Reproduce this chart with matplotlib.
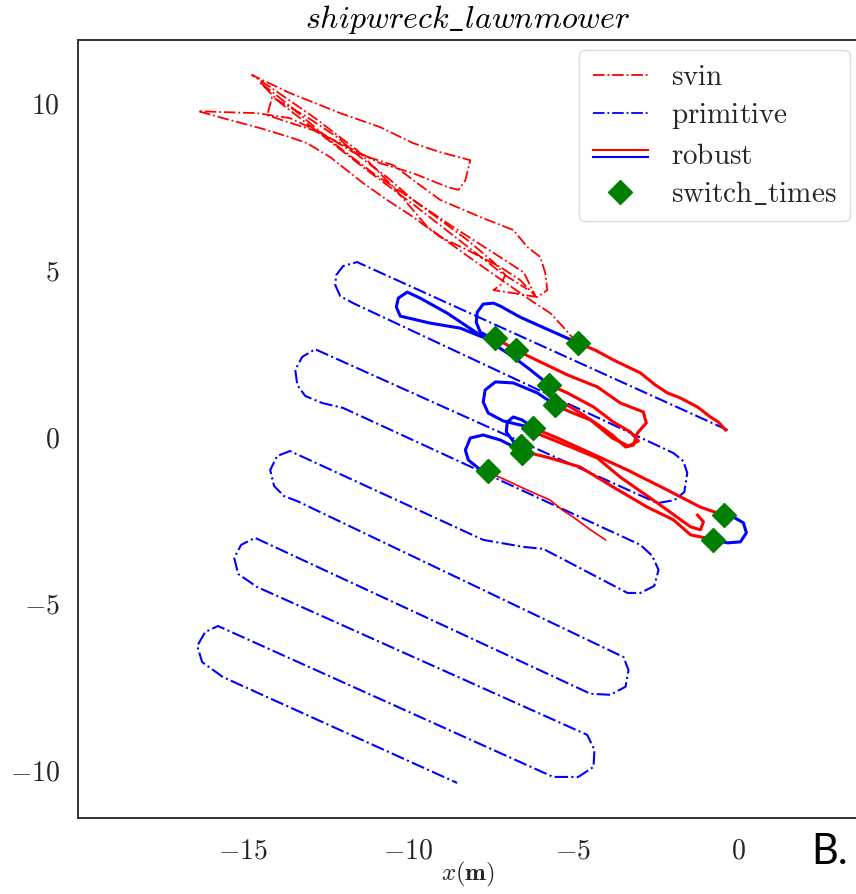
import matplotlib
matplotlib.use("Agg")
import matplotlib.pyplot as plt
from matplotlib.lines import Line2D
from matplotlib.legend_handler import HandlerBase
import numpy as np

plt.rcParams['mathtext.fontset'] = 'cm'
plt.rcParams['font.family'] = ['DejaVu Sans']

# ---------------- data (metres) ----------------
title = r'$shipwreck\_lawnmower$'
xticks = [-15, -10, -5, 0]
xticklabels = [r'$-15$', r'$-10$', r'$-5$', r'$0$']
yticks = [-10, -5, 0, 5, 10]
yticklabels = [r'$-10$', r'$-5$', r'$0$', r'$5$', r'$10$']

primitive_x = [-0.33, -11.55, -11.97, -12.18, -12.21, -12.06, -11.67,
               -1.97, -1.67, -1.55, -1.64, -1.94, -2.45,
               -12.82, -13.21, -13.42, -13.36, -13.12, -12.61, -11.97,
               -2.97, -2.61, -2.42, -2.55, -2.97, -3.36,
               -5.91, -6.52, -7.73, -13.58, -13.97, -14.18, -14.06, -13.76, -13.36,
               -3.48, -3.33, -3.42, -3.88, -4.48,
               -14.64, -15.06, -15.27, -15.15, -14.58,
               -4.58, -4.36, -4.39, -4.85, -5.61,
               -15.76, -16.15, -16.39, -16.24, -15.61, -8.52]
primitive_y = [0.18, 5.21, 5.09, 4.82, 4.52, 4.19, 3.98,
               -0.51, -0.75, -1.11, -1.68, -1.92, -2.01,
               2.60, 2.37, 1.98, 1.53, 1.20, 0.99, 0.84,
               -3.26, -3.59, -4.01, -4.49, -4.70, -4.70,
               -3.38, -3.32, -3.11, -0.45, -0.60, -1.02, -1.50, -1.80, -1.95,
               -6.62, -7.01, -7.51, -7.75, -7.72,
               -3.05, -3.26, -3.65, -4.13, -4.52,
               -8.95, -9.40, -9.91, -10.21, -10.21,
               -5.69, -5.87, -6.29, -6.77, -7.22, -10.39]

svin_x = [-4.88, -5.33, -5.70, -6.30, -7.30, -8.33, -9.42, -10.45, -11.55, -12.82, -14.18, -14.73,
          -13.58, -12.06, -10.85, -9.85, -9.03, -8.12, -8.27, -8.48,
          -8.82, -9.85, -10.85, -12.06, -12.88, -13.73, -14.27, -14.12,
          -13.06, -12.15, -11.45, -10.64, -9.85, -9.03, -8.21, -7.42, -7.06, -7.21, -7.42,
          -6.82, -6.09, -5.79, -5.85, -6.00, -6.39, -6.82, -7.82, -9.03, -9.64, -10.45,
          -11.67, -12.67, -13.58, -14.58, -15.61, -16.36,
          -15.61, -14.48, -13.58, -13.06, -12.36, -11.36, -10.64, -9.85, -9.03, -8.21,
          -7.21, -6.61, -6.15,
          -6.50, -7.60, -8.70, -9.90, -11.10, -12.30, -13.60, -14.50,
          -13.90, -12.60, -11.30, -9.80, -8.50, -7.20, -6.40]
svin_y = [2.78, 3.29, 3.68, 4.07, 4.76, 5.48, 6.26, 7.46, 8.56, 9.52, 10.45, 10.81,
          10.27, 9.67, 9.25, 8.77, 8.50, 8.26, 7.66, 7.37,
          7.46, 7.87, 8.17, 8.77, 9.16, 9.43, 9.61, 10.15,
          9.55, 8.95, 8.35, 7.75, 7.07, 6.47, 5.87, 5.21, 4.82, 4.52, 4.37,
          4.28, 4.16, 4.37, 4.88, 5.36, 5.66, 6.17, 6.56, 7.07, 7.51, 8.11,
          8.50, 9.10, 9.52, 9.67, 9.70, 9.73,
          9.52, 9.22, 8.95, 8.77, 8.35, 7.57, 7.07, 6.56, 5.96, 5.57,
          5.06, 4.67, 4.19,
          4.90, 5.60, 6.30, 7.10, 7.90, 8.80, 9.90, 10.60,
          10.00, 9.00, 8.00, 6.90, 5.90, 4.90, 4.40]

# robust trajectory pieces (red = svin mode, blue = primitive mode)
robust_red_1 = [(-0.39, 0.18), (-0.61, 0.42), (-0.85, 0.57), (-1.24, 0.87), (-1.76, 1.14),
                (-2.15, 1.29), (-2.52, 1.53), (-2.97, 1.89), (-3.79, 2.28), (-4.33, 2.57), (-4.85, 2.78)]
robust_blue_1 = [(-4.85, 2.78), (-5.18, 2.93), (-6.00, 3.29), (-6.61, 3.56), (-7.21, 3.89), (-7.42, 3.98),
                 (-7.73, 3.95), (-7.91, 3.71), (-7.94, 3.41), (-7.82, 3.11), (-7.52, 2.96), (-7.36, 2.93)]
robust_red_2 = [(-7.36, 2.93), (-6.73, 2.57), (-6.00, 2.22), (-5.18, 1.83), (-4.27, 1.47), (-3.58, 0.99),
                (-2.88, 0.72), (-2.79, 0.39), (-3.06, 0.09), (-3.18, -0.27), (-3.42, -0.33), (-3.82, 0.03),
                (-4.24, 0.33), (-4.79, 0.69), (-5.24, 0.96), (-5.55, 0.93)]
robust_blue_2 = [(-5.73, 1.53), (-6.30, 1.98), (-6.82, 2.37), (-7.73, 2.96), (-8.82, 3.68), (-9.64, 4.13),
                 (-10.03, 4.31), (-10.30, 4.13), (-10.36, 3.86), (-10.24, 3.59), (-9.33, 3.38),
                 (-8.42, 3.23), (-7.82, 2.99), (-7.36, 2.93)]
robust_red_3 = [(-5.73, 1.53), (-5.18, 1.29), (-4.39, 0.87), (-3.79, 0.42), (-3.27, 0.12), (-3.03, -0.15),
                (-3.33, -0.30), (-3.82, -0.06), (-4.48, 0.48), (-5.09, 0.72), (-5.55, 0.93)]
robust_blue_3 = [(-5.55, 0.93), (-6.09, 1.29), (-6.82, 1.59), (-7.36, 1.62), (-7.67, 1.38), (-7.73, 1.02),
                 (-7.58, 0.69), (-7.12, 0.45), (-6.61, 0.33), (-6.21, 0.24)]
robust_red_4 = [(-6.21, 0.24), (-5.48, -0.06), (-4.48, -0.51), (-3.36, -1.02), (-2.15, -1.62),
                (-1.15, -2.13), (-0.45, -2.37)]
robust_blue_4 = [(-0.45, -2.37), (-0.15, -2.43), (0.15, -2.60), (0.24, -2.90), (0.06, -3.17),
                 (-0.33, -3.20), (-0.76, -3.11)]
robust_red_5 = [(-0.76, -3.11), (-1.15, -3.02), (-1.45, -2.96), (-1.97, -2.51), (-2.76, -2.13),
                (-3.79, -1.53), (-4.79, -0.93), (-5.70, -0.66), (-6.55, -0.45)]
robust_red_6 = [(-6.21, 0.12), (-5.00, -0.36), (-4.27, -0.66), (-3.58, -1.23), (-2.45, -2.01),
                (-1.45, -2.72), (-1.15, -2.81), (-1.06, -2.57), (-1.24, -2.37)]
robust_blue_5 = [(-6.55, -0.45), (-6.85, -0.12), (-7.03, 0.12), (-7.00, 0.42), (-6.82, 0.57),
                 (-6.55, 0.48), (-6.21, 0.24)]
robust_blue_6 = [(-6.55, -0.45), (-7.21, -0.12), (-7.73, 0.03), (-8.12, -0.06), (-8.27, -0.42),
                 (-8.18, -0.72), (-7.88, -0.96), (-7.58, -1.08)]
robust_red_7 = [(-7.58, -1.08), (-6.91, -1.38), (-6.39, -1.62), (-5.70, -1.92), (-5.33, -2.22),
                (-5.00, -2.43), (-4.48, -2.81), (-4.03, -3.11)]

switch_x = [-4.85, -7.36, -6.73, -5.73, -5.55, -6.21, -6.58, -6.55, -7.58, -0.45, -0.76]
switch_y = [2.78, 2.93, 2.57, 1.53, 0.93, 0.24, -0.30, -0.51, -1.05, -2.37, -3.11]

legend_labels = [r'$\mathrm{svin}$', r'$\mathrm{primitive}$', r'$\mathrm{robust}$',
                 r'$\mathrm{switch\_times}$']

# ---------------- figure ----------------
W, H = 856, 894
fig = plt.figure(figsize=(W / 100, H / 100), dpi=100)
ax = fig.add_axes([78 / W, 1 - 818 / H, 780 / W, 778 / H])
ax.set_xlim(-20.0, 3.62)
ax.set_ylim(-11.44, 11.86)

RED = '#ff0000'
BLUE = '#0000ff'
GREEN = '#007f00'

ax.plot(svin_x, svin_y, color=RED, ls='-.', lw=1.3, zorder=2)
ax.plot(primitive_x, primitive_y, color=BLUE, ls='-.', lw=1.5, zorder=2)

for seg in [robust_red_1, robust_red_2, robust_red_3, robust_red_4, robust_red_5, robust_red_6]:
    a = np.array(seg)
    ax.plot(a[:, 0], a[:, 1], color=RED, lw=2.2, solid_joinstyle='round', zorder=3)
a = np.array(robust_red_7)
ax.plot(a[:, 0], a[:, 1], color=RED, lw=1.2, zorder=3)
for seg in [robust_blue_1, robust_blue_2, robust_blue_3, robust_blue_4, robust_blue_5, robust_blue_6]:
    a = np.array(seg)
    ax.plot(a[:, 0], a[:, 1], color=BLUE, lw=2.2, solid_joinstyle='round', zorder=3)

ax.plot(switch_x, switch_y, ls='none', marker='D', ms=12, color=GREEN, mec=GREEN, zorder=5)

ax.set_xticks(xticks)
ax.set_xticklabels(xticklabels, fontsize=20)
ax.set_yticks(yticks)
ax.set_yticklabels(yticklabels, fontsize=20)
ax.tick_params(length=0, pad=13, colors='#262626')
for s in ax.spines.values():
    s.set_color('#333333')
    s.set_linewidth(1.4)
ax.grid(False)

ax.set_title(title, fontsize=23, pad=9)
ax.set_xlabel(r'$x\mathbf{(m)}$', fontsize=18, color='#262626')
ax.xaxis.set_label_coords(0.5, -0.054)
ax.set_ylabel(r'$y\mathbf{(m)}$', fontsize=18, color='#262626')
ax.yaxis.set_label_coords(-0.098, 0.5)


class TwoLineHandler(HandlerBase):
    def create_artists(self, legend, orig_handle, xdescent, ydescent, width, height, fontsize, trans):
        y1 = height * 0.5 + 2.5
        y2 = height * 0.5 - 2.5
        l1 = Line2D([-xdescent, -xdescent + width], [y1, y1], color=RED, lw=1.5)
        l2 = Line2D([-xdescent, -xdescent + width], [y2, y2], color=BLUE, lw=1.5)
        l1.set_transform(trans)
        l2.set_transform(trans)
        return [l1, l2]


h_svin = Line2D([], [], color=RED, ls='-.', lw=1.3)
h_prim = Line2D([], [], color=BLUE, ls='-.', lw=1.3)
h_rob = Line2D([], [], color=RED)
h_sw = Line2D([], [], ls='none', marker='D', ms=12, color=GREEN)
leg = ax.legend([h_svin, h_prim, h_rob, h_sw], legend_labels,
                handler_map={h_rob: TwoLineHandler()},
                loc='upper right', bbox_to_anchor=(850 / W, 1 - 50 / H),
                bbox_transform=fig.transFigure, borderaxespad=0,
                fontsize=21, frameon=True, fancybox=True, framealpha=1,
                edgecolor='#dddddd', handlelength=1.9, handletextpad=0.8,
                labelspacing=0.35, borderpad=0.45)
for t in leg.get_texts():
    t.set_color('#262626')

fig.text(811 / W, 1 - 852 / H, 'B.', fontsize=30, family='Lato', va='center', ha='left', color='black')

fig.savefig('out.png', dpi=100)
